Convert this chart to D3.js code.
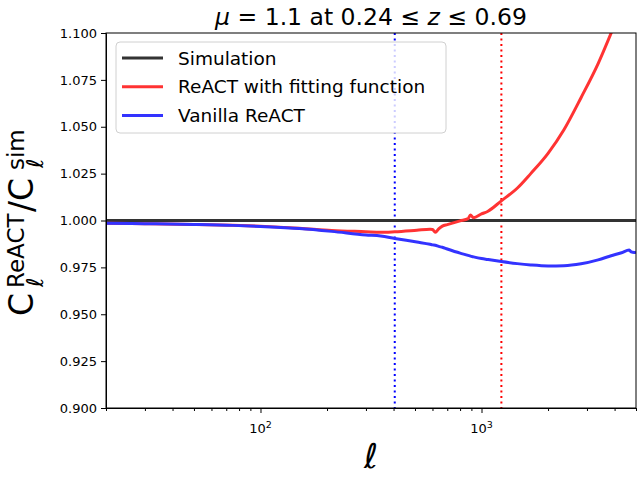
<!DOCTYPE html>
<html lang="en">
<head>
  <meta charset="UTF-8">
  <title>ReACT ratio</title>
  <script src="https://cdn.jsdelivr.net/npm/d3@7"></script>
  <style>
    body { margin: 0; background: #fff; }
    svg text { font-family: "DejaVu Sans", sans-serif; }
  </style>
</head>
<body>
<div id="chart"></div>
<script>
// multipoles
const ells = [20, 30, 50, 75, 100, 150, 210, 300, 350, 405, 510, 585, 600, 618, 640, 665, 700, 800,
  870, 891, 920, 1000, 1065, 1230, 1450, 1670, 2000, 2360, 2820, 3370, 3860, 4300, 4660, 4750, 4910, 5000];

const simRatio = ells.map(() => 1.0);

const fitRatio = [0.9985, 0.9983, 0.9979, 0.9975, 0.9970, 0.9959, 0.9947, 0.9940, 0.9937, 0.9940,
  0.9948, 0.9953, 0.9952, 0.9937, 0.9955, 0.9970, 0.9978, 0.9998, 1.0010, 1.0030, 1.0015, 1.0035,
  1.0048, 1.0105, 1.0172, 1.0250, 1.0358, 1.0484, 1.0655, 1.0837, 1.1000, 1.1137, 1.1247, 1.1276,
  1.1322, 1.1348];

const vanillaRatio = [0.9985, 0.9983, 0.9979, 0.9974, 0.9968, 0.9957, 0.9942, 0.9923, 0.9917, 0.9904,
  0.9885, 0.9873, 0.9870, 0.9868, 0.9862, 0.9857, 0.9848, 0.9826, 0.9814, 0.9810, 0.9806, 0.9797,
  0.9792, 0.9781, 0.9770, 0.9763, 0.9758, 0.9759, 0.9769, 0.9790, 0.9812, 0.9828, 0.9843, 0.9833,
  0.9830, 0.9831];

const cutBlue = 405, cutRed = 1230;   // dotted vertical lines
const yTicks = [0.900, 0.925, 0.950, 0.975, 1.000, 1.025, 1.050, 1.075, 1.100];
const xMajor = [100, 1000];
const legendNames = ["Simulation", "ReACT with fitting function", "Vanilla ReACT"];
const colors = ["#333333", "#ff3333", "#3333ff"];

const W = 640, H = 480;
const margin = {top: 33, right: 4, bottom: 72, left: 106};
const width = W - margin.left - margin.right,
      height = H - margin.top - margin.bottom;

const svg = d3.select("#chart").append("svg")
    .attr("width", W).attr("height", H);

const g = svg.append("g")
    .attr("transform", `translate(${margin.left},${margin.top})`);

const x = d3.scaleLog().domain([20, 5000]).range([0, width]);
const y = d3.scaleLinear().domain([0.9, 1.1]).range([height, 0]);

svg.append("defs").append("clipPath").attr("id", "clip")
  .append("rect").attr("width", width).attr("height", height);

const plot = g.append("g").attr("clip-path", "url(#clip)");

// vertical cut lines
[[cutBlue, "#0000ff"], [cutRed, "#ff0000"]].forEach(([v, c]) => {
  plot.append("line")
      .attr("x1", x(v)).attr("x2", x(v))
      .attr("y1", 0).attr("y2", height)
      .attr("stroke", c).attr("stroke-width", 2)
      .attr("stroke-dasharray", "2,3.5");
});

const line = d3.line()
    .x(d => x(d[0]))
    .y(d => y(d[1]))
    .curve(d3.curveMonotoneX);

[simRatio, fitRatio, vanillaRatio].forEach((vals, i) => {
  plot.append("path")
      .datum(ells.map((e, k) => [e, vals[k]]))
      .attr("fill", "none")
      .attr("stroke", colors[i])
      .attr("stroke-width", 3)
      .attr("d", line);
});

// axes
const yAxis = g.append("g")
    .call(d3.axisLeft(y).tickValues(yTicks).tickFormat(d3.format(".3f")).tickSizeOuter(0).tickSize(5));
yAxis.selectAll("text").attr("font-size", 13).attr("fill", "#000").attr("dx", "-1");

const minorTicks = [];
[10, 100, 1000].forEach(dec => {
  for (let m = 2; m <= 9; m++) {
    const v = dec * m;
    if (v >= 20 && v <= 5000) minorTicks.push(v);
  }
});

const xAxisMinor = g.append("g")
    .attr("transform", `translate(0,${height})`)
    .call(d3.axisBottom(x).tickValues(minorTicks).tickFormat("").tickSize(3).tickSizeOuter(0));
xAxisMinor.select(".domain").remove();

g.append("g")
    .attr("transform", `translate(0,${height})`)
    .call(d3.axisBottom(x).tickValues(xMajor).tickFormat("").tickSize(5).tickSizeOuter(0));

xMajor.forEach(v => {
  const t = g.append("text")
      .attr("x", x(v)).attr("y", height + 25)
      .attr("text-anchor", "middle")
      .attr("font-size", 13);
  t.append("tspan").text("10");
  t.append("tspan").attr("dy", -5).attr("font-size", 9.5).text(Math.log10(v));
});

g.selectAll(".domain").attr("stroke", "#000");
g.selectAll(".tick line").attr("stroke", "#000");

// frame
g.append("rect")
    .attr("width", width).attr("height", height)
    .attr("fill", "none").attr("stroke", "#000").attr("stroke-width", 1);

// legend
const leg = g.append("g").attr("transform", "translate(10,9)");
leg.append("rect")
    .attr("width", 330).attr("height", 91).attr("rx", 4)
    .attr("fill", "#fff").attr("fill-opacity", 0.8)
    .attr("stroke", "#d0d0d0");
legendNames.forEach((name, i) => {
  const yy = 16 + i * 28.8;
  leg.append("line")
      .attr("x1", 6).attr("x2", 47).attr("y1", yy).attr("y2", yy)
      .attr("stroke", colors[i]).attr("stroke-width", 3);
  leg.append("text")
      .attr("x", 62).attr("y", yy + 6.5)
      .attr("font-size", 18.5)
      .text(name);
});

// title
const title = svg.append("text")
    .attr("x", margin.left + width / 2).attr("y", 25)
    .attr("text-anchor", "middle")
    .attr("font-size", 23.5);
title.append("tspan").attr("font-style", "italic").text("μ");
title.append("tspan").text(" = 1.1 at 0.24 ≤ ");
title.append("tspan").attr("font-style", "italic").text("z");
title.append("tspan").text(" ≤ 0.69");

// x label
svg.append("text")
    .attr("x", margin.left + width / 2).attr("y", 468)
    .attr("text-anchor", "middle")
    .attr("font-size", 34).attr("font-style", "italic")
    .text("ℓ");

// y label, pieces placed along the rotated baseline
const yl = svg.append("g").attr("transform", "translate(0,317) rotate(-90)");
const piece = (txt, px, py, size, italic) => yl.append("text")
    .attr("x", px).attr("y", py).attr("font-size", size)
    .attr("font-style", italic ? "italic" : "normal").text(txt);
piece("C", 1, 33, 33);
piece("ReACT", 29, 24, 23);
piece("ℓ", 30, 43, 23, true);
piece("/C", 105, 33, 33);
piece("sim", 147, 24, 23);
piece("ℓ", 149, 43, 23, true);
</script>
</body>
</html>
